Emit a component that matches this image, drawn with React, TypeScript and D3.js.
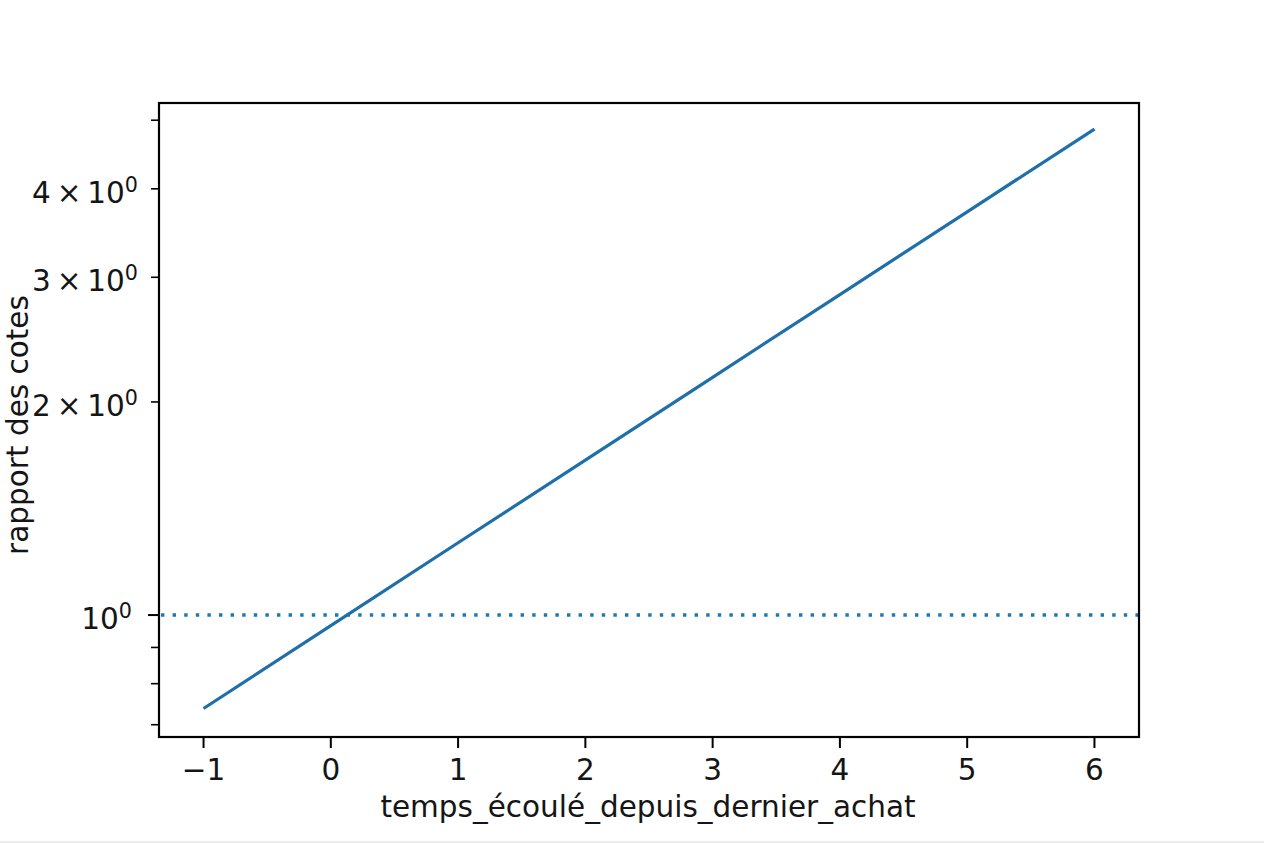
import { useEffect, useRef } from "react"
import * as d3 from "d3"

// values
const xValues = [-1, 0, 1, 2, 3, 4, 5, 6]
const oddsRatio = [0.738, 0.966, 1.265, 1.655, 2.167, 2.836, 3.712, 4.858]
const referenceLevel = 1

const xTicks = [-1, 0, 1, 2, 3, 4, 5, 6]
const yMajorTicks = [1]
const yMinorTicks = [0.7, 0.8, 0.9, 2, 3, 4, 5]
const yLabelledMinor = [2, 3, 4]

const xTitle = "temps_écoulé_depuis_dernier_achat"
const yTitle = "rapport des cotes"

export default function App() {
  const svgRef = useRef<SVGSVGElement>(null)

  useEffect(() => {
    document.body.style.margin = "0"
    if (!svgRef.current) return
    const svg = d3.select(svgRef.current)
    svg.selectAll("*").remove()

    const width = 1264
    const height = 843
    const plot = { left: 159, right: 1139, top: 103, bottom: 737 }
    const font = "DejaVu Sans, sans-serif"
    const fs = 29.5
    const ink = "#151515"

    svg.attr("width", width).attr("height", height)
    svg.append("rect").attr("width", width).attr("height", height).attr("fill", "#fff")
    svg.append("rect").attr("x", 0).attr("y", 841).attr("width", width).attr("height", 2).attr("fill", "#ececec")

    const x = d3.scaleLinear().domain([-1.35, 6.35]).range([plot.left, plot.right])
    const y = d3.scaleLog().domain([0.6726, 5.288]).range([plot.bottom, plot.top])

    // dotted reference line
    svg.append("line")
      .attr("x1", plot.left + 2).attr("x2", plot.right)
      .attr("y1", y(referenceLevel)).attr("y2", y(referenceLevel))
      .attr("stroke", "#1f77b4")
      .attr("stroke-width", 3.4)
      .attr("stroke-dasharray", "3.4 8.2")

    const pts = xValues.map((v, i) => ({ x: v, y: oddsRatio[i] }))
    const line = d3.line<{ x: number; y: number }>().x(d => x(d.x)).y(d => y(d.y))
    svg.append("path")
      .datum(pts)
      .attr("fill", "none")
      .attr("stroke", "#1f6fab")
      .attr("stroke-width", 3.2)
      .attr("d", line)

    // frame
    svg.append("rect")
      .attr("x", plot.left).attr("y", plot.top)
      .attr("width", plot.right - plot.left).attr("height", plot.bottom - plot.top)
      .attr("fill", "none").attr("stroke", "#000").attr("stroke-width", 2.2)

    // x axis
    const xg = svg.append("g").attr("font-family", font).attr("font-size", fs)
    xTicks.forEach(t => {
      xg.append("line")
        .attr("x1", x(t)).attr("x2", x(t))
        .attr("y1", plot.bottom).attr("y2", plot.bottom + 11)
        .attr("stroke", "#000").attr("stroke-width", 2)
      xg.append("text")
        .attr("x", x(t)).attr("y", 780)
        .attr("text-anchor", "middle")
        .attr("fill", ink)
        .text(t < 0 ? `\u2212${Math.abs(t)}` : `${t}`)
    })

    // y axis
    const yg = svg.append("g").attr("font-family", font).attr("font-size", fs)
    yMajorTicks.forEach(t => {
      yg.append("line")
        .attr("x1", plot.left - 11).attr("x2", plot.left)
        .attr("y1", y(t)).attr("y2", y(t))
        .attr("stroke", "#000").attr("stroke-width", 2)
      const label = yg.append("text")
        .attr("x", 132).attr("y", y(t) + 14)
        .attr("text-anchor", "end")
        .attr("fill", ink)
      label.append("tspan").text("10")
      label.append("tspan").attr("dy", -11).attr("font-size", fs * 0.7).text("0")
    })
    yMinorTicks.forEach(t => {
      yg.append("line")
        .attr("x1", plot.left - 8).attr("x2", plot.left)
        .attr("y1", y(t)).attr("y2", y(t))
        .attr("stroke", "#000").attr("stroke-width", 1.6)
      if (!yLabelledMinor.includes(t)) return
      const label = yg.append("text")
        .attr("x", 138).attr("y", y(t) + 14)
        .attr("text-anchor", "end")
        .attr("fill", ink)
      label.append("tspan").text(`${t}\u2009\u00d7\u200910`)
      label.append("tspan").attr("dy", -11).attr("font-size", fs * 0.7).text("0")
    })

    // axis titles
    svg.append("text")
      .attr("x", 648).attr("y", 817)
      .attr("text-anchor", "middle")
      .attr("font-family", font).attr("font-size", fs)
      .attr("fill", ink)
      .text(xTitle)

    svg.append("text")
      .attr("transform", `translate(28,${(plot.top + plot.bottom) / 2 + 5}) rotate(-90)`)
      .attr("text-anchor", "middle")
      .attr("font-family", font).attr("font-size", fs)
      .attr("fill", ink)
      .text(yTitle)
  }, [])

  return <svg ref={svgRef} style={{ display: "block" }}></svg>
}
